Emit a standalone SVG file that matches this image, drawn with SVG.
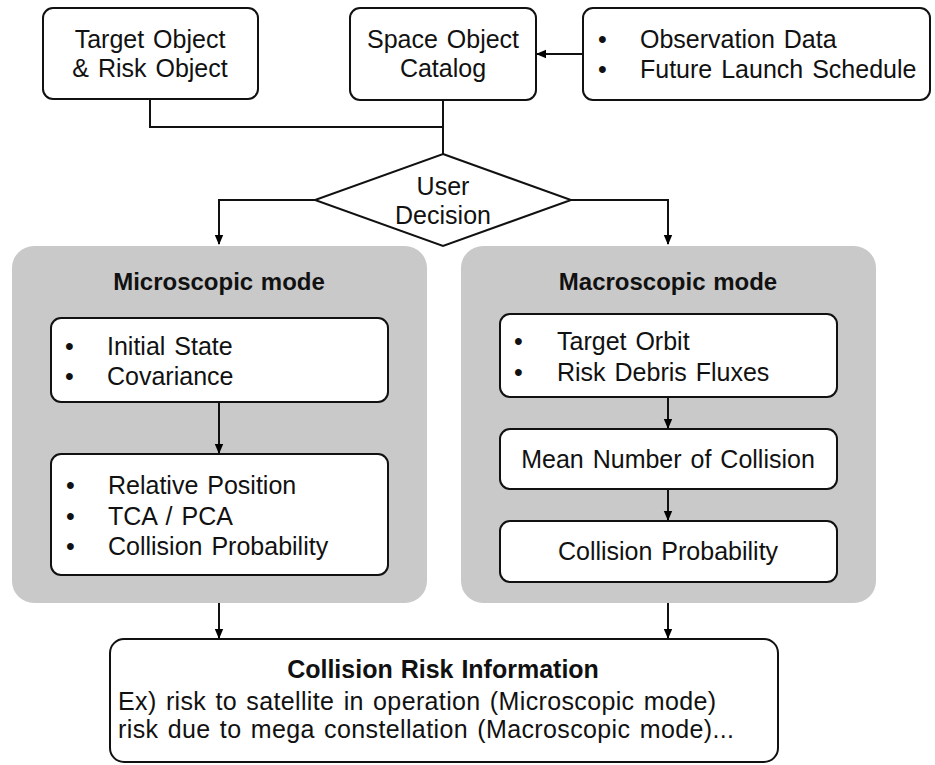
<svg xmlns="http://www.w3.org/2000/svg" width="935" height="765" viewBox="0 0 935 765">
<defs>
<marker id="ah" markerWidth="10" markerHeight="10" refX="9" refY="5" orient="auto" markerUnits="userSpaceOnUse">
<path d="M0,0.8 L10,5 L0,9.2 Z" fill="#000"/>
</marker>
<style>
text{font-family:"Liberation Sans",Arial,sans-serif;font-size:25px;fill:#111;word-spacing:2px}
.b{font-weight:bold;font-size:24px;word-spacing:1px}
.m{text-anchor:middle}
.box{fill:#fff;stroke:#111;stroke-width:2}
.panel{fill:#c9c9c9;stroke:none}
.ln{fill:none;stroke:#111;stroke-width:2}
</style>
</defs>
<rect width="935" height="765" fill="#fff"/>

<g id="panel-micro">
<rect class="panel" x="12" y="246" width="415" height="357" rx="22"/>
<text class="b m" x="219" y="290">Microscopic mode</text>
</g>
<g id="panel-macro">
<rect class="panel" x="461" y="246" width="415" height="357" rx="22"/>
<text class="b m" x="668" y="290">Macroscopic mode</text>
</g>

<g id="connectors">
<polyline class="ln" points="150,99 150,127 443,127"/>
<line class="ln" x1="443" y1="100" x2="443" y2="154"/>
<line class="ln" x1="583" y1="54" x2="537" y2="54" marker-end="url(#ah)"/>
<polyline class="ln" points="315,200 219,200 219,244" marker-end="url(#ah)"/>
<polyline class="ln" points="571,200 668,200 668,244" marker-end="url(#ah)"/>
<line class="ln" x1="219" y1="402" x2="219" y2="453" marker-end="url(#ah)"/>
<line class="ln" x1="668" y1="397" x2="668" y2="428" marker-end="url(#ah)"/>
<line class="ln" x1="668" y1="489" x2="668" y2="520" marker-end="url(#ah)"/>
<line class="ln" x1="219" y1="603" x2="219" y2="638" marker-end="url(#ah)"/>
<line class="ln" x1="668" y1="603" x2="668" y2="638" marker-end="url(#ah)"/>
</g>

<g id="target-risk">
<rect class="box" x="43" y="8" width="215" height="91" rx="10"/>
<text class="m" x="150" y="48">Target Object</text>
<text class="m" x="150" y="77">&amp; Risk Object</text>
</g>
<g id="catalog">
<rect class="box" x="350" y="8" width="186" height="92" rx="10"/>
<text class="m" x="443" y="48">Space Object</text>
<text class="m" x="443" y="77">Catalog</text>
</g>
<g id="obs">
<rect class="box" x="583" y="8" width="347" height="92" rx="10"/>
<text x="598" y="48">•</text>
<text x="640" y="48">Observation Data</text>
<text x="598" y="78">•</text>
<text x="640" y="78">Future Launch Schedule</text>
</g>
<g id="decision">
<polygon class="box" points="443,154 571,200 443,246 315,200"/>
<text class="m" x="443" y="195">User</text>
<text class="m" x="443" y="224">Decision</text>
</g>

<g id="micro-1">
<rect class="box" x="51" y="318" width="337" height="84" rx="10"/>
<text x="65" y="355">•</text>
<text x="107" y="355">Initial State</text>
<text x="65" y="385">•</text>
<text x="107" y="385">Covariance</text>
</g>
<g id="micro-2">
<rect class="box" x="51" y="454" width="337" height="121" rx="10"/>
<text x="66" y="494">•</text>
<text x="108" y="494">Relative Position</text>
<text x="66" y="525">•</text>
<text x="108" y="525">TCA / PCA</text>
<text x="66" y="555">•</text>
<text x="108" y="555">Collision Probability</text>
</g>

<g id="macro-1">
<rect class="box" x="500" y="314" width="337" height="83" rx="10"/>
<text x="514" y="350">•</text>
<text x="557" y="350">Target Orbit</text>
<text x="514" y="381">•</text>
<text x="557" y="381">Risk Debris Fluxes</text>
</g>
<g id="macro-2">
<rect class="box" x="500" y="429" width="337" height="60" rx="10"/>
<text class="m" x="668" y="468">Mean Number of Collision</text>
</g>
<g id="macro-3">
<rect class="box" x="500" y="521" width="337" height="61" rx="10"/>
<text class="m" x="668" y="560">Collision Probability</text>
</g>

<g id="result">
<rect class="box" x="110" y="639" width="668" height="123" rx="14"/>
<text class="b m" x="443" y="678" style="font-size:25px">Collision Risk Information</text>
<text x="118" y="710" textLength="598" lengthAdjust="spacing">Ex) risk to satellite in operation (Microscopic mode)</text>
<text x="118" y="738" textLength="616" lengthAdjust="spacing">risk due to mega constellation (Macroscopic mode)...</text>
</g>
</svg>
